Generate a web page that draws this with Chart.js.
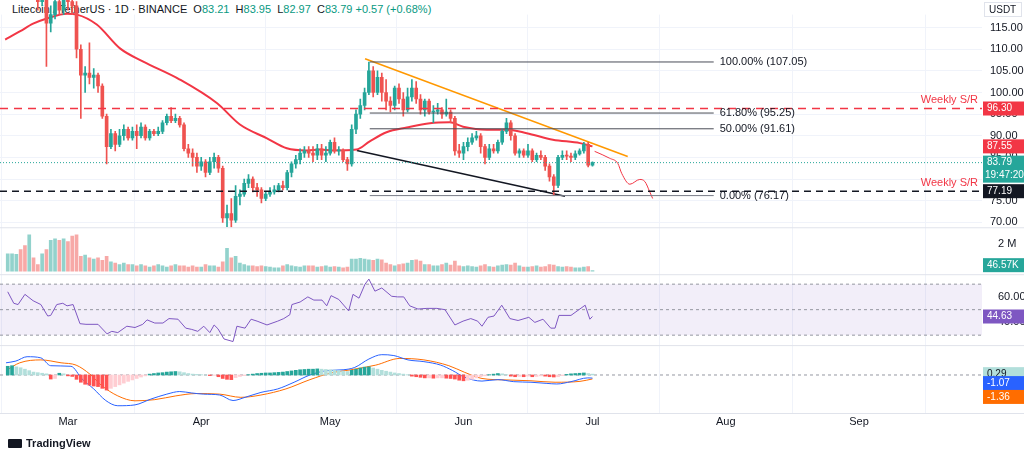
<!DOCTYPE html>
<html>
<head>
<meta charset="utf-8">
<script src="https://cdn.jsdelivr.net/npm/chart.js@4.4.1/dist/chart.umd.min.js"></script>
<style>
  html, body { margin: 0; padding: 0; background: #fff; }
  #wrap { position: relative; width: 1024px; height: 455px; overflow: hidden; }
  #hdr { position: absolute; left: 12px; top: 3px; font: 11px "Liberation Sans", Arial, sans-serif; color: #131722; white-space: nowrap; }
  #hdr .v { color: #089981; }
  #chart { position: absolute; left: 0; top: 0; }
  #logo { position: absolute; left: 8px; top: 437px; font: bold 11px "Liberation Sans", Arial, sans-serif; color: #131722; display: flex; align-items: center; gap: 4px; }
  #logo i { display: inline-block; width: 14px; height: 9px; background: #131722; border-radius: 1px; }
</style>
</head>
<body>
<div id="wrap">
  <div id="hdr">Litecoin / TetherUS · 1D · BINANCE &nbsp;O<span class="v">83.21</span> &nbsp;H<span class="v">83.95</span> &nbsp;L<span class="v">82.97</span> &nbsp;C<span class="v">83.79</span> <span class="v">+0.57 (+0.68%)</span></div>
  <canvas id="chart" width="1024" height="455"></canvas>
  <div id="logo"><i></i>TradingView</div>
</div>
<script>
// ---------------------------------------------------------------------------
//  Data (daily candles, Feb 15 -> Jul 1; x = days since Mar 1)
// ---------------------------------------------------------------------------

const firstDay = -14;
const monthTicks  = [0, 31, 61, 92, 122, 153, 184];
const monthLabels = ['Mar', 'Apr', 'May', 'Jun', 'Jul', 'Aug', 'Sep'];

const closes = [
  127,130,131,128,126,128,124,121,123,116,118,121,119,122,
  121,120,110,104,104.5,103.5,104,101.5,94.5,87.5,90.5,88,90,91.5,89.5,91,90,92,89.5,91,90.5,91,93,94.5,93.5,94,92.5,87,86,85,83,
  84,81.5,84,85,82.5,71,72,70.5,76,76.5,79,80,78,77.5,75.5,76.5,77,77.5,78.5,78,81.5,83.5,84.5,86,86.5,86,85.5,87,85.5,86,
  88.5,86.5,86.6,84.5,83.5,91.5,95,97,100,105,100,103.5,100,98,97,101,98.5,96,99,101,98.5,96,98,95.5,95.6,96,95,95.5,94,86.5,86,
  87.5,88.5,89.5,90,87.5,85,87,86.5,88.5,91,93,90,86,86.5,85.5,86.5,84.5,85.5,85,83,80.5,78.5,85,85.5,85.3,85,85.8,86.5,88,83.21,
  83.79,
];
const opens = [125, ...closes.slice(0, -1)];
const highs = [
  129,132,134,132,129,130,129,125,125,124,120,122,123,124,
  124,123,121,111,106,111.5,105.5,104.5,102,95,91.5,91,91.5,92.5,92,92,92.5,93,92.5,91.5,91.5,92,93.5,95,96.5,95,94.5,93,88,87,86,
  85,84.5,85,86,85.5,83,74,75.5,78.5,77.5,80,81,80.5,79,78,77,78,78.5,79,79.5,82,84,85.5,87,87.5,87.5,87.5,88,88,87.5,
  89,89.5,87.5,87,85,92.5,96,98.5,101,107,106,105,104.5,103,99,101.5,102,100,101,103,102.5,99.5,98.5,98.5,97,97.5,96.5,98.5,96,94.5,88,
  88.5,89.5,90.5,91,90.5,88,88,88,89,91.5,94,93.5,90.5,87,87,88,87,86,86.5,85.5,83.5,81,85.5,86.5,86.5,86,86.5,87,88.5,88.5,
  83.95,
];
const lows = [
  124,126,129,127,124,125,122,119,120,106,114,117,118,118,
  119,118,108,94,100,102,101,100,94,83.5,87,86.5,87.5,89,89,89,87,89.5,89,89,90,90,90.5,92.5,93,93,92,86.5,85,83,81.5,
  82,80.5,81,82.5,81.5,70,69,68,70,74,76,78,77,76,74.5,75,76,76.5,77,77.5,77.5,80.5,82.5,83.5,85,85,84,84.5,84.5,84,
  85.5,86,85.5,84,82,83,90.5,94,96,99.5,99,99.5,98,96,95.5,96,97.5,94.5,95.5,98,97.5,95,94.5,95,93,95,94,94.5,93,85.5,85,
  84.5,86.5,88,89,86,83.5,84.5,86,86,88,90.5,89,85.5,85,85,85,84,84,84.5,82,79.5,76.2,78,84.5,84.5,84,84.5,85.5,86,82.8,
  82.97,
];
// volume in millions
const volumes = [
  1.3,1.3,1.25,1.6,1.9,2.7,1.0,0.5,1.3,1.6,2.3,2.4,2.3,2.4,
  2.2,2.6,2.7,1.1,1.2,1.0,0.9,1.0,0.8,1.1,0.7,0.6,0.5,0.6,0.5,0.5,0.4,0.5,0.4,0.3,0.4,0.5,0.4,0.3,0.4,0.5,0.4,0.4,0.3,0.4,0.3,
  0.3,0.5,0.4,0.4,0.3,0.7,1.7,1.0,1.1,0.6,0.5,0.4,0.4,0.35,0.4,0.35,0.3,0.25,0.25,0.4,0.5,0.4,0.35,0.3,0.4,0.4,0.4,0.3,0.35,0.4,
  0.3,0.35,0.3,0.25,0.3,0.9,0.9,0.95,0.9,0.85,0.8,0.9,0.85,0.6,0.5,0.4,0.5,0.55,0.6,0.8,0.85,0.75,0.5,0.5,0.4,0.4,0.5,0.6,0.45,0.75,0.4,
  0.35,0.4,0.35,0.3,0.4,0.5,0.35,0.3,0.4,0.45,0.5,0.45,0.6,0.4,0.3,0.3,0.35,0.4,0.3,0.35,0.5,0.45,0.35,0.3,0.35,0.3,0.25,0.25,0.3,0.35,
  0.047,
];
const macdHist = [
  3.0,3.2,2.8,2.5,2.0,1.5,1.0,0.8,0.6,0.4,-1.4,-1.2,0.6,0.4,
  -0.3,-0.5,-1.5,-2.5,-3.2,-3.5,-3.8,-4.0,-4.6,-5.2,-4.6,-4.0,-3.4,-2.8,-2.2,-1.7,-1.2,-0.7,-0.3,
  0.3,0.5,0.7,0.8,1.0,1.1,1.2,1.1,0.8,0.5,0.3,0.2,0.1,0.0,-0.2,-0.1,-0.6,-1.2,-1.5,-1.6,-0.9,-0.5,-0.2,0.1,
  0.3,0.5,0.6,0.7,0.7,0.8,0.9,1.0,1.2,1.4,1.6,1.8,1.9,2.0,2.0,2.1,2.0,1.9,
  1.8,1.7,1.5,1.3,1.2,1.6,2.0,2.4,2.7,2.8,2.4,2.0,1.6,1.3,1.0,0.7,0.5,0.3,0.1,
  -0.4,-0.6,-0.8,-1.0,-1.0,-1.1,-1.0,-1.0,-1.1,-1.2,-1.4,-1.8,-2.0,-1.8,-1.5,-1.0,-0.6,
  -0.3,0.1,0.3,0.5,0.4,0.1,-0.4,-0.6,-0.5,-0.6,-0.4,-0.6,-0.5,-0.3,-0.4,-0.6,-0.7,-0.6,-0.2,0.2,
  0.4,0.5,0.6,0.7,0.5,0.29,
];

// EMA 50 read at points
const emaDays = [-14.6,-11.2,-8.1,-4.9,-0.2,2.1,6.7,12.1,17.4,26,34.7,40,46.3,50.9,55.6,58.6,61.6,67.1,70.2,74.1,78.8,84.2,88.8,91.9,97.4,102,106.7,112.8,119.1,122];
const emaVals = [112.2,114.1,115.9,117.1,118.2,118,115.7,110.2,107.2,103,97.5,92.6,89.4,87.1,86.6,86.8,86.6,86.8,88.7,90.8,91.9,92.9,93.1,92.1,91.4,91.4,90.6,89.1,88.3,87.55];

// projected path (drawn)
const projDays = [122.5,126,127.9,128.8,130.7,133,134.2,135.3,136];
const projVals = [86.4,84.8,83.6,81.3,78.8,79.9,79.4,77.1,75.5];

// RSI 14
const rsiDays = [-14,-12.6,-11.6,-10,-8.1,-6.3,-4.7,-4,-2.6,-1.2,-0.2,1.2,2.8,4.2,7,9.1,10.2,11.6,13.7,15.6,17.4,18.4,20.2,22.1,23.5,25.6,27.4,28.8,30.2,31.6,33,34,34.9,36.3,38.4,39.3,41.2,42.6,44,46.3,48.8,50.2,51.6,52.1,54,55.8,57.2,59.1,60.2,61.2,63,65.3,66.3,67.7,69.1,70,71.4,73,75.3,76.7,78.1,79.5,81.4,83.5,85.8,87.7,90,91.9,93.7,95.3,96.3,97.7,99.1,100.9,102.8,104.7,107.2,108.6,110.5,112.3,113.3,114.2,117,120.3,121.4,122];
const rsiVals = [64,55,54,62,57,54,45,45.5,54,55,53,54,39,38.5,38.5,31,33,32,37,36,38.5,42,39.5,39.5,43,42.5,35.5,34.5,33,37,32,38,35,27,25,37,35.5,42.5,41,38,41,43,46,54,56,60,57.5,57.5,53,61,58,49,62,59,70,74,64.5,67,60.5,60,60,53,50.5,51,51,50,38,41,43,41,37,44,45,53.5,43,41.5,44,40,42.5,35.5,35.5,45.5,45.5,53.5,42.5,44.63];

// MACD line and signal
const macdDays = [-14.4,-12.1,-9.5,-6.3,-4,0.7,3.3,6,8.8,11.6,15.6,19.3,23,26,28.8,31.6,35.3,38.4,41.2,44.9,48.8,52.6,56.3,60.2,64,66.7,70,73,75.8,79.1,82.8,86.7,89.5,92.3,96.3,100,103.7,107.7,111.4,113.7,117,120.9,122];
const macdVals = [4.2,4.8,6.3,5.9,3.2,3.0,-1.4,-4.8,-8.8,-10.6,-10.3,-8.3,-6.6,-5.7,-6.2,-6.6,-6.9,-8.8,-7.7,-6.0,-4.8,-2.5,0,1.5,1.8,2.6,5.5,7.0,6.7,5.2,4.6,3.4,1.5,-0.8,-2.1,-1.6,-2.3,-2.5,-2.9,-3.1,-2.3,-1.0,-1.07];
const sigDays = [-14.4,-11.2,-6.3,-1.6,1.9,5.1,7.9,11.6,15.6,20.2,25.1,29.8,35.3,40.2,44.9,50.7,56.3,61.2,65.8,71.6,77.2,82.8,88.6,92.3,96.3,101.9,107.7,113.3,119.1,122];
const sigVals = [1.5,4.2,5.2,4.2,3.4,0.3,-3.7,-7.2,-8.9,-8.5,-7.2,-6.4,-6.6,-7.7,-6.9,-4.8,-1.6,0.7,1.8,3.4,5.7,5.2,3.2,0.9,-1.2,-1.7,-2.0,-2.5,-2.2,-1.36];

// Fibonacci levels, trend lines, S/R
const fibLevels = [[107.05, '100.00% (107.05)'], [95.25, '61.80% (95.25)'], [91.61, '50.00% (91.61)'], [76.17, '0.00% (76.17)']];
const fibFrom = 70.2, fibTo = 150.2;
const upperTrend = [[69.1, 107.8], [130.2, 85.2]];
const lowerTrend = [[67.2, 86.6], [115.6, 76.0]];
const weeklySR = [96.30, 77.19];
const lastPrice = 83.79;

// ---------------------------------------------------------------------------

const X_MIN = -15.8, X_MAX = 212.6;
const UP = '#26a69a', DOWN = '#ef5350';
const FONT = '"Liberation Sans", Arial, sans-serif';
const NO_TOP_CLIP = { left: 0, top: false, right: 0, bottom: 0 };

const candleColor = closes.map((c, i) => c >= opens[i] ? UP : DOWN);
const day = i => firstDay + i;
const pts = (xs, ys) => xs.map((x, i) => ({ x, y: ys[i] }));
const hline = (y) => [{ x: X_MIN, y }, { x: X_MAX, y }];

const histColor = macdHist.map((h, i) => {
  const prev = i ? macdHist[i - 1] : h;
  if (h >= 0) return h >= prev ? UP : '#b2dfdb';
  return h < prev ? '#ff5252' : '#ffcdd2';
});

const lineDs = (data, color, width, extra = {}) => ({
  type: 'line', data, borderColor: color, borderWidth: width, pointRadius: 0,
  fill: false, tension: 0, yAxisID: 'y', ...extra,
});

const datasets = [
  // price overlays behind candles
  lineDs(hline(weeklySR[0]), '#f23645', 1.5, { borderDash: [8, 6] }),
  lineDs(hline(weeklySR[1]), '#131722', 1.5, { borderDash: [7, 5] }),
  lineDs(hline(lastPrice), '#26a69a', 1, { borderDash: [1, 2] }),
  ...fibLevels.map(([v], i) => lineDs([{ x: fibFrom, y: v }, { x: fibTo, y: v }], i === 3 ? '#787b86' : '#4a4d57', 1)),
  { type: 'bar', data: closes.map((c, i) => ({ x: day(i), y: [lows[i], highs[i]] })),
    backgroundColor: candleColor, barThickness: 1, grouped: false, yAxisID: 'y', clip: NO_TOP_CLIP },
  { type: 'bar', data: closes.map((c, i) => ({ x: day(i), y: [opens[i], c] })),
    backgroundColor: candleColor, barThickness: 3, minBarLength: 1, grouped: false, yAxisID: 'y', clip: NO_TOP_CLIP },
  lineDs(pts(emaDays, emaVals), '#f23645', 2, { cubicInterpolationMode: 'monotone', clip: NO_TOP_CLIP }),
  lineDs(pts(projDays, projVals), '#f23645', 1, { cubicInterpolationMode: 'monotone' }),
  lineDs(upperTrend.map(([x, y]) => ({ x, y })), '#ff9800', 1.5),
  lineDs(lowerTrend.map(([x, y]) => ({ x, y })), '#131722', 1.5),
  // volume
  { type: 'bar', data: volumes.map((v, i) => ({ x: day(i), y: v })),
    backgroundColor: candleColor.map(c => c === UP ? 'rgba(38,166,154,0.5)' : 'rgba(239,83,80,0.5)'),
    barThickness: 3, grouped: false, yAxisID: 'yVol' },
  // RSI
  lineDs(pts(rsiDays, rsiVals), '#7e57c2', 1, { yAxisID: 'yRsi' }),
  // MACD
  { type: 'bar', data: macdHist.map((h, i) => ({ x: day(i), y: h })),
    backgroundColor: histColor, barThickness: 3, grouped: false, yAxisID: 'yMacd' },
  lineDs(pts(macdDays, macdVals), '#2962ff', 1, { yAxisID: 'yMacd', cubicInterpolationMode: 'monotone' }),
  lineDs(pts(sigDays, sigVals), '#ff6d00', 1, { yAxisID: 'yMacd', cubicInterpolationMode: 'monotone' }),
];

const fixedTicks = vals => scale => { scale.ticks = vals.map(value => ({ value })); };
const tickFont = { family: FONT, size: 11 };
const rightAxis = (extra) => ({
  type: 'linear', position: 'right', stack: 'panes', offset: false,
  border: { display: false },
  grid: { display: false },
  afterFit: s => { s.width = 42; },
  ...extra,
});

// ---------------------------------------------------------------------------
//  Decorations: RSI band, pane separators, labels and price badges
// ---------------------------------------------------------------------------

function badge(ctx, x, y, text, bg, fg, text2) {
  const h = text2 ? 27 : 14;
  ctx.fillStyle = bg;
  ctx.fillRect(x, y - 7, 41, h);
  ctx.fillStyle = fg;
  ctx.textAlign = 'left';
  ctx.textBaseline = 'middle';
  ctx.fillText(text, x + 4, y);
  if (text2) ctx.fillText(text2, x + 2, y + 13);
}

const decorations = {
  id: 'decorations',
  beforeDatasetsDraw(chart) {
    const { ctx, chartArea: a, scales: { yRsi, yMacd } } = chart;
    ctx.save();
    const t = yRsi.getPixelForValue(70), b = yRsi.getPixelForValue(30);
    ctx.fillStyle = 'rgba(126,87,194,0.1)';
    ctx.fillRect(a.left, t, a.right - a.left, b - t);
    ctx.setLineDash([3, 3]);
    ctx.lineWidth = 1;
    ctx.strokeStyle = '#9598a1';
    [yRsi.getPixelForValue(70), yRsi.getPixelForValue(50), yRsi.getPixelForValue(30), yMacd.getPixelForValue(0)]
      .forEach(y => { ctx.beginPath(); ctx.moveTo(a.left, y); ctx.lineTo(a.right, y); ctx.stroke(); });
    ctx.restore();
  },
  afterDraw(chart) {
    const { ctx, chartArea: a, scales: { x, y, yVol, yRsi, yMacd } } = chart;
    ctx.save();
    // pane separators
    ctx.strokeStyle = '#e0e3eb';
    ctx.lineWidth = 1;
    [yVol.top, yRsi.top, yMacd.top, yMacd.bottom].forEach(py => {
      ctx.beginPath(); ctx.moveTo(0, py + 0.5); ctx.lineTo(1024, py + 0.5); ctx.stroke();
    });
    // month labels
    ctx.font = `11px ${FONT}`;
    ctx.fillStyle = '#131722';
    ctx.textAlign = 'center';
    ctx.textBaseline = 'middle';
    monthTicks.forEach((d, i) => ctx.fillText(monthLabels[i], x.getPixelForValue(d), 422));
    // fib labels
    ctx.textAlign = 'left';
    fibLevels.forEach(([v, label]) => ctx.fillText(label, x.getPixelForValue(fibTo) + 6, y.getPixelForValue(v)));
    // weekly S/R labels
    ctx.fillStyle = '#f23645';
    ctx.textAlign = 'right';
    ctx.textBaseline = 'bottom';
    weeklySR.forEach(v => ctx.fillText('Weekly S/R', a.right - 4, y.getPixelForValue(v) - 3));
    // USDT box
    ctx.strokeStyle = '#e0e3eb';
    ctx.strokeRect(a.right + 2.5, 2.5, 37, 14);
    ctx.font = `10px ${FONT}`;
    ctx.fillStyle = '#131722';
    ctx.textAlign = 'left';
    ctx.textBaseline = 'middle';
    ctx.fillText('USDT', a.right + 7, 10);
    // badges
    ctx.font = `10px ${FONT}`;
    const bx = a.right + 1;
    badge(ctx, bx, y.getPixelForValue(96.30), '96.30', '#f23645', '#fff');
    badge(ctx, bx, y.getPixelForValue(87.55), '87.55', '#f23645', '#fff');
    badge(ctx, bx, y.getPixelForValue(lastPrice), '83.79', '#26a69a', '#fff', '19:47:20');
    badge(ctx, bx, y.getPixelForValue(77.19), '77.19', '#131722', '#fff');
    badge(ctx, bx, yVol.getPixelForValue(0.45), '46.57K', '#26a69a', '#fff');
    badge(ctx, bx, yRsi.getPixelForValue(44.63), '44.63', '#7e57c2', '#fff');
    badge(ctx, bx, yMacd.getPixelForValue(0.29), '0.29', '#b2dfdb', '#131722');
    badge(ctx, bx, yMacd.getPixelForValue(-1.07) + 5, '-1.07', '#2962ff', '#fff');
    badge(ctx, bx, yMacd.getPixelForValue(-1.36) + 18, '-1.36', '#ff6d00', '#fff');
    ctx.restore();
  },
};

new Chart(document.getElementById('chart'), {
  type: 'bar',
  data: { datasets },
  plugins: [decorations],
  options: {
    responsive: false, animation: false, events: [],
    layout: { padding: { top: 0, bottom: 22, left: 0, right: 0 } },
    plugins: { legend: { display: false }, tooltip: { enabled: false } },
    scales: {
      x: {
        type: 'linear', min: X_MIN, max: X_MAX, offset: false,
        border: { display: false },
        grid: { color: '#f0f3fa', drawTicks: false },
        afterBuildTicks: fixedTicks(monthTicks),
        afterFit: s => { s.height = 20; },
        ticks: { display: false },
      },
      y: rightAxis({
        min: 68.85, max: 118, stackWeight: 213,
        grid: { color: '#f0f3fa', drawTicks: false },
        afterBuildTicks: fixedTicks([70, 75, 80, 85, 90, 95, 100, 105, 110, 115]),
        ticks: { color: '#131722', font: tickFont, padding: 8, autoSkip: false, callback: v => v.toFixed(2) },
      }),
      yVol: rightAxis({
        min: -0.22, max: 3.26, stackWeight: 47,
        afterBuildTicks: fixedTicks([2]),
        ticks: { color: '#131722', font: tickFont, padding: 8, autoSkip: false, callback: v => v + ' M' },
      }),
      yRsi: rightAxis({
        min: 22.2, max: 77.8, stackWeight: 71,
        afterBuildTicks: fixedTicks([60, 40]),
        ticks: { color: '#131722', font: tickFont, padding: 8, autoSkip: false, callback: v => v.toFixed(2) },
      }),
      yMacd: rightAxis({
        min: -13.1, max: 10.3, stackWeight: 68,
        ticks: { display: false },
      }),
    },
  },
});
</script>
</body>
</html>
